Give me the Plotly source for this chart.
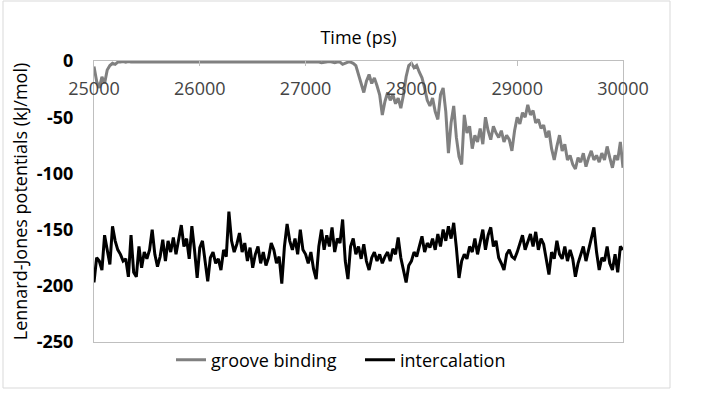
import plotly.graph_objects as go

t_start = 25000
t_step = 25

groove_binding = [
    -5, -18, -24, -14, -20, -8, -4, -2, -3, -1,
    -1, -0.5, -1, -0.5, -1, -1, -0.5, -1, -0.5, -1,
    -1, -0.5, -1, -1, -0.5, -1, -0.5, -1, -1, -0.5,
    -1, -0.5, -1, -1, -0.5, -1, -1, -0.5, -1, -0.5,
    -1, -1, -0.5, -1, -0.5, -1, -1, -0.5, -1, -0.5,
    -1, -1, -0.5, -1, -0.5, -1, -1, -0.5, -1, -0.5,
    -1, -1, -0.5, -1, -0.5, -1, -1, -0.5, -1, -0.5,
    -1, -1, -0.5, -1, -0.5, -1, -1, -0.5, -1, -0.5,
    -1, -1, -0.5, -1, -0.5, -1, -1.5, -1, -1, -0.5,
    -1, -1.5, -1, -1, -3, -2, -1, -1, -2, -4,
    -12, -22, -28, -18, -12, -20, -15, -22, -30, -48,
    -36, -28, -35, -30, -38, -33, -42, -30, -14, -4,
    -2, -6, -4, -10, -15, -24, -35, -40, -33, -45,
    -52, -30, -24, -45, -82, -55, -40, -68, -85, -92,
    -48, -64, -58, -78, -66, -72, -60, -74, -50, -62,
    -70, -58, -64, -68, -62, -72, -66, -70, -80, -62,
    -50, -56, -46, -50, -39, -48, -44, -55, -52, -60,
    -57, -68, -62, -78, -88, -76, -66, -80, -74, -88,
    -84, -92, -96, -86, -90, -82, -94, -86, -80, -88,
    -84, -90, -82, -88, -76, -86, -95, -84, -88, -72,
    -95,
]

intercalation = [
    -197, -175, -178, -186, -155, -170, -181, -147, -160, -168,
    -172, -178, -176, -192, -155, -188, -192, -165, -184, -170,
    -176, -168, -150, -172, -183, -174, -159, -178, -160, -170,
    -157, -172, -158, -146, -165, -158, -176, -147, -168, -193,
    -166, -160, -178, -196, -175, -170, -180, -176, -186, -168,
    -174, -134, -160, -170, -163, -153, -170, -162, -178, -166,
    -184, -172, -165, -180, -170, -182, -175, -162, -168, -180,
    -174, -198, -165, -145, -160, -168, -158, -172, -150, -168,
    -172, -180, -170, -185, -194, -165, -150, -168, -155, -165,
    -148, -170, -158, -162, -141, -178, -194, -165, -158, -172,
    -165, -176, -163, -178, -186, -175, -170, -178, -172, -180,
    -174, -170, -178, -167, -172, -157, -175, -186, -197, -182,
    -178, -170, -174, -165, -156, -170, -162, -166, -158, -168,
    -154, -165, -150, -160, -147, -158, -144, -166, -193, -178,
    -172, -176, -165, -170, -158, -172, -160, -150, -168, -155,
    -148, -165, -160, -175, -180, -186, -172, -168, -174, -176,
    -170, -162, -155, -168, -160, -154, -165, -152, -168, -158,
    -163, -178, -190, -170, -176, -160, -172, -176, -165, -178,
    -168, -176, -192, -180, -172, -165, -178, -168, -160, -148,
    -170, -186, -175, -178, -165, -180, -186, -172, -188, -165,
    -168,
]

time_ps = [t_start + t_step * i for i in range(len(groove_binding))]

x_ticks = [25000, 26000, 27000, 28000, 29000, 30000]
y_ticks = [0, -50, -100, -150, -200, -250]

FONT = "Open Sans"
AX = "#bfbfbf"

fig = go.Figure()
fig.add_trace(go.Scatter(x=time_ps, y=groove_binding, mode="lines",
                         name="groove binding",
                         line=dict(color="#808080", width=3)))
fig.add_trace(go.Scatter(x=time_ps, y=intercalation, mode="lines",
                         name="intercalation",
                         line=dict(color="#000000", width=3)))

fig.update_layout(
    width=701, height=399,
    margin=dict(l=94, r=78, t=61, b=57, autoexpand=False),
    paper_bgcolor="white", plot_bgcolor="white",
    font=dict(family=FONT, size=18, color="black"),
    showlegend=True,
    legend=dict(orientation="h", x=(171 - 94) / 529, xanchor="left",
                y=-0.064, yanchor="middle", entrywidth=144,
                font=dict(size=18), bgcolor="rgba(0,0,0,0)"),
    xaxis=dict(
        side="top", range=[25000, 30000], tickvals=x_ticks,
        ticktext=[str(v) for v in x_ticks],
        ticks="inside", ticklen=5, tickcolor=AX,
        ticklabelposition="inside", ticklabeloverflow="allow",
        ticklabelstandoff=17, automargin=False,
        showline=True, linecolor=AX, linewidth=1, mirror=True,
        showgrid=False, zeroline=False,
        title=dict(text="Time (ps)", standoff=26, font=dict(size=18)),
    ),
    yaxis=dict(
        range=[-250, 0], tickvals=y_ticks,
        ticktext=["<b>%d</b>" % v for v in y_ticks],
        ticks="", ticklabelstandoff=16, automargin=False,
        showline=True, linecolor=AX, linewidth=1, mirror=True,
        showgrid=False, zeroline=False,
        title=dict(text="Lennard-Jones potentials (kJ/mol)", standoff=4,
                   font=dict(size=18)),
    ),
    shapes=[dict(type="rect", xref="paper", yref="paper",
                 x0=(3 - 94) / 529, x1=(670 - 94) / 529,
                 y0=(342 - 388) / 281, y1=(342 - 1) / 281,
                 line=dict(color="#d9d9d9", width=1),
                 fillcolor="rgba(0,0,0,0)", layer="below")],
)

fig.write_html("out.html", config={"displayModeBar": False},
               post_script="document.body.style.margin='0';document.body.style.overflow='hidden';")
